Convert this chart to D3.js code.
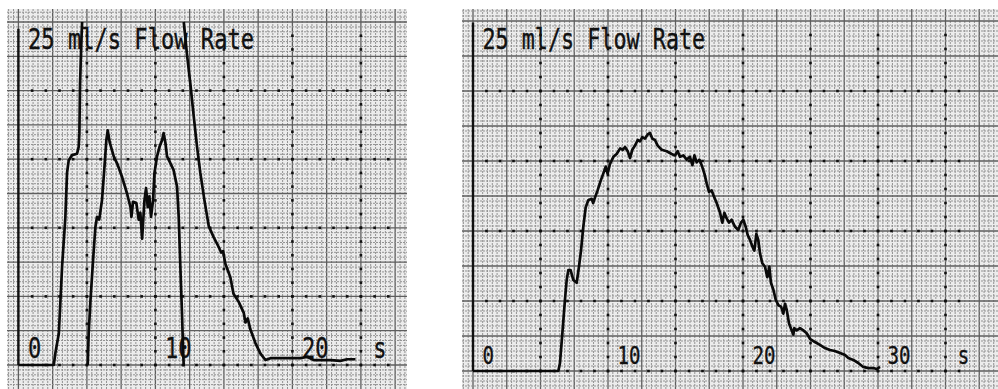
<!DOCTYPE html>
<html>
<head>
<meta charset="utf-8">
<script src="https://cdn.jsdelivr.net/npm/d3@7"></script>
<style>
  body { margin: 0; background: #fff; }
  svg { display: block; }
</style>
</head>
<body>
<script>
// DATA

// left chart: the pen wraps at 25 ml/s, null breaks the trace
const leftTime = [0, 2.58, 2.7, 2.95, 3.07, 3.19, 3.43, 3.55, 3.67, 3.92, 4.28, 4.4, 4.45, 4.5, 4.6, 4.65,
  null,
  5.06, 5.13, 5.26, 5.45, 5.62, 5.74, 5.9, 6.1, 6.28, 6.42, 6.52, 6.67, 6.96, 7.2, 7.57, 7.93, 8.18, 8.25,
  8.37, 8.61, 8.78, 8.9, 9.03, 9.2, 9.32, 9.44, 9.56, 9.68, 9.83, 9.93, 10.12, 10.3, 10.49, 10.6, 10.73,
  10.85, 11.1, 11.33, 11.58, 11.7, 11.82, 11.95, 12.02, 12.07,
  null,
  12.07, 12.3, 12.55, 12.8, 13.04, 13.28, 13.58, 13.9, 14.26, 14.62, 14.8, 14.94, 15.1, 15.47, 15.7, 16.08,
  16.45, 16.57, 16.74, 16.93, 17.3, 17.66, 18.03, 18.4, 19.36, 20.6, 21.07, 21.56, 22.8, 23.5, 24, 24.6];
const leftFlow = [0, 0, 0.87, 2.3, 4.7, 7.2, 10.8, 14, 14.9, 15.3, 15.4, 15.9, 16.9, 20.5, 23.7, 25,
  null,
  0, 2.3, 4.7, 7.65, 10.06, 10.8, 10.6, 12, 14.4, 16.4, 17.1, 16.2, 15.2, 14.7, 13.7, 12.5, 11.5, 10.8,
  11.9, 11.8, 10.6, 11.1, 9.2, 12, 12.9, 11.5, 12.3, 10.8, 12, 14, 15.2, 15.9, 16.4, 16.9, 16.2,
  15.2, 14.7, 14.2, 13, 10.8, 7.2, 3.5, 1.1, -0.1,
  null,
  25, 22.7, 20.5, 18.1, 15.9, 14, 12, 10.1, 9.3, 8.6, 8.2, 8.3, 7.4, 6.4, 5.2, 4.6,
  3.8, 3.1, 3.4, 2.6, 1.6, 0.85, 0.36, 0.5, 0.5, 0.5, 0.6, 0.36, 0.36, 0.3, 0.42, 0.42];

const rightTime = [0, 6.32, 6.44, 6.62, 6.81, 6.94, 7.06, 7.23, 7.43, 7.68, 7.85, 8.0, 8.17, 8.35, 8.54,
  8.79, 8.9, 9.04, 9.23, 9.46, 9.65, 9.83, 9.97, 10.15, 10.4, 10.64, 10.9, 11.09, 11.26, 11.46, 11.63,
  11.8, 12, 12.2, 12.37, 12.54, 12.74, 12.94, 13.11, 13.28, 13.48, 13.68, 13.98, 14.35, 14.72, 14.96,
  15.16, 15.33, 15.58, 15.83, 16.07, 16.25, 16.4, 16.57, 16.77, 16.94, 17.14, 17.31, 17.48, 17.68, 17.88,
  18.05, 18.3, 18.47, 18.62, 18.79, 18.96, 19.16, 19.41, 19.65, 19.85, 20.02, 20.2, 20.35, 20.52, 20.69,
  20.84, 20.99, 21.13, 21.26, 21.43, 21.63, 21.8, 21.95, 22.07, 22.25, 22.43, 22.62, 22.82, 22.99, 23.11,
  23.24, 23.41, 23.61, 23.73, 23.8, 23.98, 24.22, 24.47, 24.72, 24.96, 25.33, 25.7, 26.07, 26.44, 26.8,
  27.19, 27.56, 27.8, 28.17, 28.54, 28.91, 29.28, 29.65, 29.9, 30.15];
const rightFlow = [0, 0, 0.55, 2.7, 5.07, 6.5, 7.2, 7.2, 6.5, 6.3, 7.45, 8.6, 10.3, 11.7, 12.2,
  12.3, 12, 12.4, 12.9, 13.6, 14.1, 14.6, 14.1, 14.8, 15.3, 15.5, 15.9, 15.8, 16, 15.7, 15.2,
  15.8, 16.1, 16.5, 16.4, 16.7, 16.6, 16.9, 17, 16.6, 16.5, 16.1, 15.8, 15.7, 15.5, 15.4,
  15.7, 15.3, 15.4, 15.1, 15.3, 14.7, 15.4, 14.9, 15.1, 14.7, 14.1, 13.4, 12.8, 12.9, 12.4,
  12, 11.3, 10.6, 11.3, 10.9, 10.6, 10.8, 10.3, 10.07, 10.6, 10.8, 10.3, 9.7, 9.36, 8.9,
  8.6, 9.8, 9.36, 8.4, 7.7, 7.45, 6.7, 7.45, 6.3, 5.8, 5.07, 4.7, 4.6, 4.1, 4.8,
  4.36, 3.4, 2.9, 2.6, 3.06, 2.9, 3.06, 2.9, 2.7, 2.3, 2.07, 1.86, 1.64, 1.5, 1.43,
  1.29, 1.14, 0.93, 0.79, 0.57, 0.29, 0.21, 0.21, 0.14, 0.29];

const titleText = '25 ml/s Flow Rate';
const leftTicks = ['0', '10', '20', 's'];
const leftTickPos = [0, 10, 20, 25.2];
const rightTicks = ['0', '10', '20', '30', 's'];
const rightTickPos = [0, 10, 20, 30, 35.2];

// SETUP

const svg = d3.select('body')
              .append('svg')
              .attr('width', 998)
              .attr('height', 389)
              .style('background', '#fff');

const font = "'DejaVu Sans Mono', 'Liberation Mono', monospace";

function drawPanel(p, id) {
  const x = d3.scaleLinear().domain([0, 1]).range([p.x0, p.x0 + p.pxX]);
  const y = d3.scaleLinear().domain([0, 1]).range([p.y0, p.y0 - p.pxY]);

  const g = svg.append('g');

  // paper
  g.append('clipPath').attr('id', id)
   .append('rect')
   .attr('x', p.paper[0]).attr('y', p.paper[1])
   .attr('width', p.paper[2] - p.paper[0]).attr('height', p.paper[3] - p.paper[1]);

  const paper = g.append('g').attr('clip-path', `url(#${id})`);
  paper.append('rect')
       .attr('x', p.paper[0]).attr('y', p.paper[1])
       .attr('width', p.paper[2] - p.paper[0]).attr('height', p.paper[3] - p.paper[1])
       .attr('fill', '#ececec');

  // printed paper grid: fine lines, darker every 7th (= 2.5 units)
  const step = 2.5 / 7;
  const tMin = x.invert(p.paper[0]), tMax = x.invert(p.paper[2]);
  const vMin = y.invert(p.paper[3]), vMax = y.invert(p.paper[1]);
  const kx = d3.range(Math.floor(tMin / step), Math.ceil(tMax / step) + 1);
  const ky = d3.range(Math.floor(vMin / step), Math.ceil(vMax / step) + 1);

  paper.selectAll('.gx').data(kx).enter().append('line')
       .attr('x1', k => x(k * step)).attr('x2', k => x(k * step))
       .attr('y1', p.paper[1]).attr('y2', p.paper[3])
       .attr('stroke', k => k % 7 === 0 ? '#5e5e5e' : '#939393')
       .attr('stroke-width', k => k % 7 === 0 ? 1.3 : 1)
       .attr('stroke-dasharray', k => k % 7 === 0 ? null : '2,1');

  paper.selectAll('.gy').data(ky).enter().append('line')
       .attr('y1', k => y(k * step)).attr('y2', k => y(k * step))
       .attr('x1', p.paper[0]).attr('x2', p.paper[2])
       .attr('stroke', k => k % 7 === 0 ? '#5e5e5e' : '#939393')
       .attr('stroke-width', k => k % 7 === 0 ? 1.3 : 1)
       .attr('stroke-dasharray', k => k % 7 === 0 ? null : '2,1');

  // dotted major lines (every 5 units, a dot at each unit)
  const dots = [];
  [0, 5, 10, 15, 20].forEach(v => d3.range(1, p.rowEnd + 1).forEach(t => dots.push([t, v])));
  d3.range(5, p.rowEnd + 1, 5).forEach(t => d3.range(0, 25).forEach(v => dots.push([t, v])));
  paper.selectAll('.dot').data(dots).enter().append('rect')
       .attr('x', d => x(d[0]) - 1.3).attr('y', d => y(d[1]) - 1.3)
       .attr('width', 2.6).attr('height', 2.6)
       .attr('fill', '#111');

  // y axis line
  g.append('line')
   .attr('x1', x(0)).attr('x2', x(0))
   .attr('y1', y(0)).attr('y2', y(p.axisTop))
   .attr('stroke', '#111').attr('stroke-width', 2.4);

  // title
  g.append('text')
   .attr('x', x(0.7)).attr('y', y(23))
   .attr('textLength', x(17.2) - x(0.7))
   .attr('lengthAdjust', 'spacingAndGlyphs')
   .style('font-family', font)
   .style('font-size', '29px')
   .attr('fill', '#111')
   .attr('stroke', '#111').attr('stroke-width', 0.4)
   .text(titleText);

  // tick labels
  g.selectAll('.tick').data(p.ticks).enter().append('text')
   .attr('x', (d, i) => x(p.tickPos[i] + 0.7))
   .attr('y', y(p.tickBase))
   .attr('textLength', d => d.length * p.charW)
   .attr('lengthAdjust', 'spacingAndGlyphs')
   .style('font-family', font)
   .style('font-size', p.tickSize + 'px')
   .attr('fill', '#111')
   .attr('stroke', '#111').attr('stroke-width', 0.3)
   .text(d => d);

  // trace
  const line = d3.line()
                 .defined(d => d[1] !== null)
                 .x(d => x(d[0]))
                 .y(d => y(d[1]));

  g.append('path')
   .datum(p.time.map((t, i) => [t, p.flow[i]]))
   .attr('d', line)
   .attr('fill', 'none')
   .attr('stroke', '#0a0a0a')
   .attr('stroke-width', 2.7)
   .attr('stroke-linejoin', 'round');
}

drawPanel({
  x0: 18.4, pxX: 13.7, y0: 365, pxY: 13.72,
  paper: [7, 9, 407, 389], rowEnd: 27, axisTop: 24.5,
  ticks: leftTicks, tickPos: leftTickPos, tickBase: 0.5, tickSize: 29, charW: 13.3,
  time: leftTime, flow: leftFlow
}, 'clipL');

drawPanel({
  x0: 473, pxX: 13.5, y0: 371, pxY: 14,
  paper: [462, 9, 998, 389], rowEnd: 36, axisTop: 24.9,
  ticks: rightTicks, tickPos: rightTickPos, tickBase: 0.5, tickSize: 24, charW: 11.5,
  time: rightTime, flow: rightFlow
}, 'clipR');
</script>
</body>
</html>
